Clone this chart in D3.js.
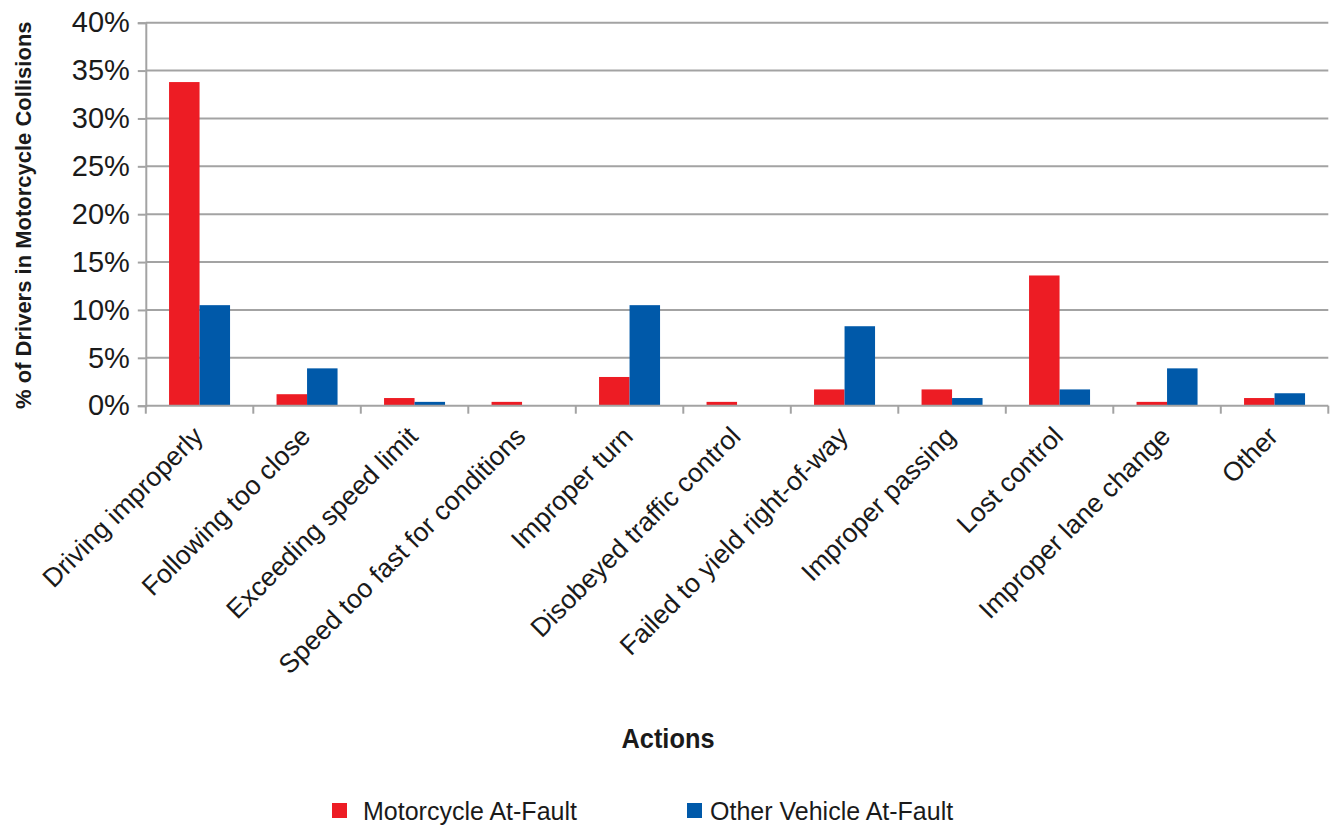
<!DOCTYPE html>
<html>
<head>
<meta charset="utf-8">
<script src="https://cdn.jsdelivr.net/npm/d3@7"></script>
<style>
  html, body { margin: 0; padding: 0; background: #fff; }
  svg { display: block; font-family: "Liberation Sans", Arial, sans-serif; }
</style>
</head>
<body>
<svg id="chart" width="1337" height="829"></svg>
<script>
const categories = [
  "Driving improperly", "Following too close", "Exceeding speed limit",
  "Speed too fast for conditions", "Improper turn", "Disobeyed traffic control",
  "Failed to yield right-of-way", "Improper passing", "Lost control",
  "Improper lane change", "Other"
];
const seriesNames = ["Motorcycle At-Fault", "Other Vehicle At-Fault"];
const motorcycleAtFault = [33.8, 1.2, 0.8, 0.4, 3.0, 0.4, 1.7, 1.7, 13.6, 0.4, 0.8];
const otherVehicleAtFault = [10.5, 3.9, 0.4, 0, 10.5, 0, 8.3, 0.8, 1.7, 3.9, 1.3];
const yTicks = [0, 5, 10, 15, 20, 25, 30, 35, 40];
const colors = ["#ED1C24", "#0059A9"];

const rows = categories.map((c, i) => ({
  cat: c,
  vals: [
    { key: seriesNames[0], v: motorcycleAtFault[i] },
    { key: seriesNames[1], v: otherVehicleAtFault[i] }
  ]
}));

const svg = d3.select("#chart");
const L = 145.8, R = 1328.3, T = 22.7, B = 405.7;
const gridColor = "#a3a3a3";
const textColor = "#1a1a1a";

const x0 = d3.scaleBand().domain(categories).range([L, R])
  .paddingInner(0.4326).paddingOuter(0.2163);
const x1 = d3.scaleBand().domain(seriesNames).range([0, x0.bandwidth()]);
const y = d3.scaleLinear().domain([0, 40]).range([B, T]);
const color = d3.scaleOrdinal().domain(seriesNames).range(colors);

// gridlines
svg.append("g").selectAll("line").data(yTicks.filter(d => d > 0)).join("line")
  .attr("x1", L).attr("x2", R)
  .attr("y1", d => y(d)).attr("y2", d => y(d))
  .attr("stroke", gridColor).attr("stroke-width", 2);

// y axis
const yAxis = svg.append("g").attr("transform", `translate(${L},0)`)
  .call(d3.axisLeft(y).tickValues(yTicks).tickSize(8).tickPadding(8)
    .tickFormat(d => d + "%"));
yAxis.select(".domain").attr("stroke", gridColor).attr("stroke-width", 2);
yAxis.selectAll(".tick line").attr("stroke", gridColor).attr("stroke-width", 2);
yAxis.selectAll(".tick text").attr("font-size", 29).attr("fill", textColor)
  .attr("font-family", "Liberation Sans, Arial, sans-serif");

// bars
const groups = svg.append("g").selectAll("g").data(rows).join("g")
  .attr("transform", d => `translate(${x0(d.cat)},0)`);
groups.selectAll("rect").data(d => d.vals).join("rect")
  .attr("x", d => x1(d.key))
  .attr("width", x1.bandwidth())
  .attr("y", d => y(d.v))
  .attr("height", d => y(0) - y(d.v))
  .attr("fill", d => color(d.key));

// x axis line with ticks at category boundaries
const step = x0.step();
const boundaries = d3.range(categories.length + 1).map(i => L + i * step);
svg.append("line").attr("x1", L).attr("x2", R).attr("y1", B).attr("y2", B)
  .attr("stroke", gridColor).attr("stroke-width", 2);
svg.append("g").selectAll("line").data(boundaries).join("line")
  .attr("x1", d => d).attr("x2", d => d).attr("y1", B).attr("y2", B + 8)
  .attr("stroke", gridColor).attr("stroke-width", 2);

// category labels
svg.append("g").selectAll("text").data(categories).join("text")
  .attr("transform", d => `translate(${x0(d) + x0.bandwidth() / 2 + 5},438) rotate(-45)`)
  .attr("text-anchor", "end")
  .attr("font-size", 26.5)
  .attr("fill", textColor)
  .text(d => d);

// axis titles
svg.append("text")
  .attr("transform", `translate(31,${(T + B) / 2 + 1}) rotate(-90)`)
  .attr("text-anchor", "middle").attr("font-size", 22).attr("font-weight", "bold")
  .attr("fill", textColor)
  .text("% of Drivers in Motorcycle Collisions");
svg.append("text")
  .attr("x", 668).attr("y", 748)
  .attr("text-anchor", "middle").attr("font-size", 28).attr("font-weight", "bold")
  .attr("textLength", 93).attr("lengthAdjust", "spacingAndGlyphs")
  .attr("fill", textColor)
  .text("Actions");

// legend
const legendX = [332, 687];
const lg = svg.append("g").selectAll("g").data(seriesNames).join("g")
  .attr("transform", (d, i) => `translate(${legendX[i]},803)`);
lg.append("rect").attr("width", 15).attr("height", 15).attr("fill", d => color(d));
lg.append("text").attr("x", (d, i) => i === 0 ? 31 : 23).attr("y", 17)
  .attr("font-size", 25).attr("fill", textColor).text(d => d);
</script>
</body>
</html>
